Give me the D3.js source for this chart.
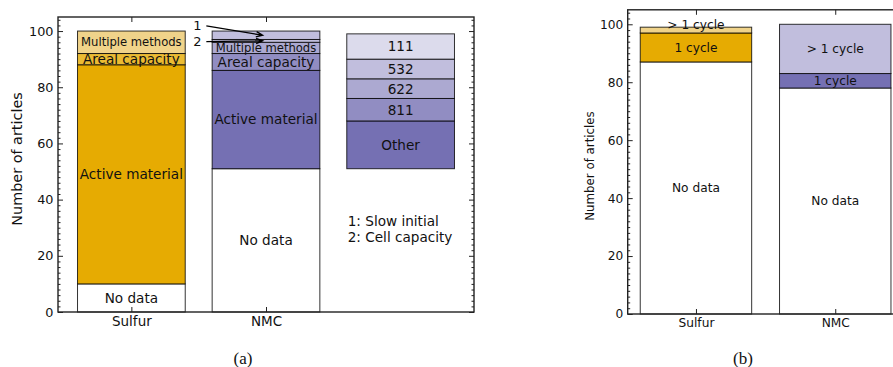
<!DOCTYPE html>
<html>
<head>
<meta charset="utf-8">
<script src="https://cdn.jsdelivr.net/npm/d3@7"></script>
<style>
  body { margin: 0; background: #fff; }
  svg { display: block; }
  text { font-family: "DejaVu Sans", sans-serif; fill: #111; }
</style>
</head>
<body>
<svg id="chart" width="893" height="367"></svg>
<script>
// ---- (a) how capacity is reported ----
const categoriesA = ["Sulfur", "NMC"];
const sulfurMethodNames = ["No data", "Active material", "Areal capacity", "Multiple methods"];
const sulfurMethodCounts = [10, 78, 4, 8];
const nmcMethodNames = ["No data", "Active material", "Areal capacity", "Multiple methods", "Cell capacity", "Slow initial"];
const nmcMethodCounts = [51, 35, 6, 4, 1, 3];
const nmcChemistryNames = ["Other", "811", "622", "532", "111"];
const nmcChemistryCounts = [17, 8, 7, 7, 9];
const nmcChemistryStart = 51;
const footnoteNames = ["Slow initial", "Cell capacity"];   // shown as 1, 2

// ---- (b) cycles reported ----
const categoriesB = ["Sulfur", "NMC"];
const cycleNames = ["No data", "1 cycle", "> 1 cycle"];
const sulfurCycleCounts = [87, 10, 2];
const nmcCycleCounts = [78, 5, 17];

const yTicks = [0, 20, 40, 60, 80, 100];

// colours
const sulfurMethodColors = ["#ffffff", "#e6ab02", "#ebbb33", "#f0d38a"];
const nmcMethodColors = ["#ffffff", "#7570b3", "#918dc2", "#aca9d1", "#c1bedd", "#c1bedd"];
const nmcChemistryColors = ["#7570b3", "#918dc2", "#aca9d1", "#c1bedd", "#dcdbec"];
const sulfurCycleColors = ["#ffffff", "#e6ab02", "#f0d38a"];
const nmcCycleColors = ["#ffffff", "#7570b3", "#c1bedd"];

const svg = d3.select("#chart");

function stack(pos, start, names, counts, colors) {
  const tops = d3.cumsum(counts).map(v => v + start);
  return counts.map((c, i) => ({ pos, name: names[i], y0: tops[i] - c, y1: tops[i], color: colors[i] }));
}

function drawBars(g, x, y, segs, opts) {
  const bw = x(0.4) - x(0);
  g.selectAll(null).data(segs).join("rect")
    .attr("x", d => x(d.pos) - bw)
    .attr("width", 2 * bw)
    .attr("y", d => y(d.y1))
    .attr("height", d => y(d.y0) - y(d.y1))
    .attr("fill", d => d.color)
    .attr("stroke", "#000")
    .attr("stroke-opacity", 0.8)
    .attr("stroke-width", 1);
  g.selectAll(null).data(segs.filter(d => !opts.hidden.includes(d.name))).join("text")
    .attr("x", d => x(d.pos))
    .attr("y", d => y(opts.labelY ? opts.labelY(d) : (d.y0 + d.y1) / 2))
    .attr("dy", "0.36em")
    .attr("text-anchor", "middle")
    .attr("font-size", d => opts.fontSize(d))
    .text(d => d.name);
}

function drawFrame(g, x, y, tickPos, tickLabels, fs, yfs) {
  const [x0, x1] = x.range(), [yb, yt] = y.range();
  const minor = d3.range(0, 105, 2).filter(v => !yTicks.includes(v));
  const style = sel => {
    sel.select(".domain").remove();
    sel.selectAll(".tick line").attr("stroke", "#222").attr("stroke-width", 1);
  };
  g.append("g").attr("transform", `translate(${x0},0)`)
    .call(d3.axisLeft(y).tickValues(yTicks).tickSize(-5).tickPadding(4.5))
    .call(style)
    .call(s => s.selectAll("text").attr("font-size", yfs).attr("font-family", "DejaVu Sans").attr("fill", "#111"));
  g.append("g").attr("transform", `translate(${x0},0)`)
    .call(d3.axisLeft(y).tickValues(minor).tickSize(-2.5).tickFormat(""))
    .call(style);
  g.append("g").attr("transform", `translate(${x1},0)`)
    .call(d3.axisRight(y).tickValues(yTicks).tickSize(-5).tickFormat(""))
    .call(style);
  g.append("g").attr("transform", `translate(${x1},0)`)
    .call(d3.axisRight(y).tickValues(minor).tickSize(-2.5).tickFormat(""))
    .call(style);
  g.append("g").attr("transform", `translate(0,${yb})`)
    .call(d3.axisBottom(x).tickValues(tickPos).tickFormat((d, i) => tickLabels[i]).tickSize(-5).tickPadding(4))
    .call(style)
    .call(s => s.selectAll("text").attr("font-size", fs).attr("font-family", "DejaVu Sans").attr("fill", "#111"));
  g.append("g").attr("transform", `translate(0,${yt})`)
    .call(d3.axisTop(x).tickValues(tickPos).tickSize(-5).tickFormat(""))
    .call(style);
  g.append("rect")
    .attr("x", x0).attr("y", yt).attr("width", x1 - x0).attr("height", yb - yt)
    .attr("fill", "none").attr("stroke", "#222").attr("stroke-width", 1.4);
}

// ================= panel (a) =================
const xa = d3.scaleLinear().domain([-0.545, 2.545]).range([58, 474]);
const ya = d3.scaleLinear().domain([0, 105]).range([312, 17]);
const ga = svg.append("g");

const segsA = [
  ...stack(0, 0, sulfurMethodNames, sulfurMethodCounts, sulfurMethodColors),
  ...stack(1, 0, nmcMethodNames, nmcMethodCounts, nmcMethodColors),
  ...stack(2, nmcChemistryStart, nmcChemistryNames, nmcChemistryCounts, nmcChemistryColors)
];
drawBars(ga, xa, ya, segsA, {
  hidden: footnoteNames,
  fontSize: d => d.name === "Multiple methods" ? 11.6 : 13.6
});

// numbered call-outs for the thin NMC segments
const nmcSegs = segsA.filter(d => d.pos === 1);
const calloutY = [102, 96.4];
footnoteNames.forEach((name, i) => {
  const seg = nmcSegs.find(d => d.name === name);
  const tx = xa(0.49), ty = ya(calloutY[i]);
  ga.append("text").attr("x", tx).attr("y", ty).attr("dy", "0.36em")
    .attr("text-anchor", "middle").attr("font-size", 13).text(i + 1);
  const sx = tx + 9, sy = ty + 0.5;
  const ex = xa(0.975), ey = ya((seg.y0 + seg.y1) / 2);
  const ang = Math.atan2(ey - sy, ex - sx), L = 7, a = 0.38;
  ga.append("path")
    .attr("d", `M${sx},${sy}L${ex},${ey}` +
      `M${ex - L * Math.cos(ang - a)},${ey - L * Math.sin(ang - a)}L${ex},${ey}` +
      `L${ex - L * Math.cos(ang + a)},${ey - L * Math.sin(ang + a)}`)
    .attr("fill", "none").attr("stroke", "#000").attr("stroke-width", 1.3);
});

// footnote key
const keyLines = footnoteNames.map((n, i) => `${i + 1}: ${n}`);
ga.selectAll(null).data(keyLines).join("text")
  .attr("x", xa(1.607))
  .attr("y", (d, i) => ya(29.4) + (i - 0.5) * 15.6)
  .attr("dy", "0.36em")
  .attr("font-size", 13.6)
  .text(d => d);

drawFrame(ga, xa, ya, [0, 1], categoriesA, 13.5, 12.8);
ga.append("text").attr("transform", "translate(17,159) rotate(-90)")
  .attr("dy", "0.36em").attr("text-anchor", "middle").attr("font-size", 14.4)
  .text("Number of articles");
ga.append("text").attr("x", 243).attr("y", 358).attr("dy", "0.36em")
  .attr("text-anchor", "middle").attr("font-size", 17)
  .style("font-family", "'Liberation Serif', serif")
  .text("(a)");

// ================= panel (b) =================
const xb = d3.scaleLinear().domain([-0.49, 1.49]).range([627.7, 903.5]);
const yb = d3.scaleLinear().domain([0, 105]).range([314, 9.8]);
const gb = svg.append("g");

const segsB = [
  ...stack(0, 0, cycleNames, sulfurCycleCounts, sulfurCycleColors),
  ...stack(1, 0, cycleNames, nmcCycleCounts, nmcCycleColors)
];
drawBars(gb, xb, yb, segsB, {
  hidden: [],
  fontSize: () => 12.2,
  labelY: d => (d.y1 - d.y0 < 4 ? d.y1 + 1 : (d.y0 + d.y1) / 2)
});
drawFrame(gb, xb, yb, [0, 1], categoriesB, 12.2, 12.2);
gb.append("text").attr("transform", "translate(590,166) rotate(-90)")
  .attr("dy", "0.36em").attr("text-anchor", "middle").attr("font-size", 11.8)
  .text("Number of articles");
gb.append("text").attr("x", 743).attr("y", 358).attr("dy", "0.36em")
  .attr("text-anchor", "middle").attr("font-size", 17)
  .style("font-family", "'Liberation Serif', serif")
  .text("(b)");
</script>
</body>
</html>
